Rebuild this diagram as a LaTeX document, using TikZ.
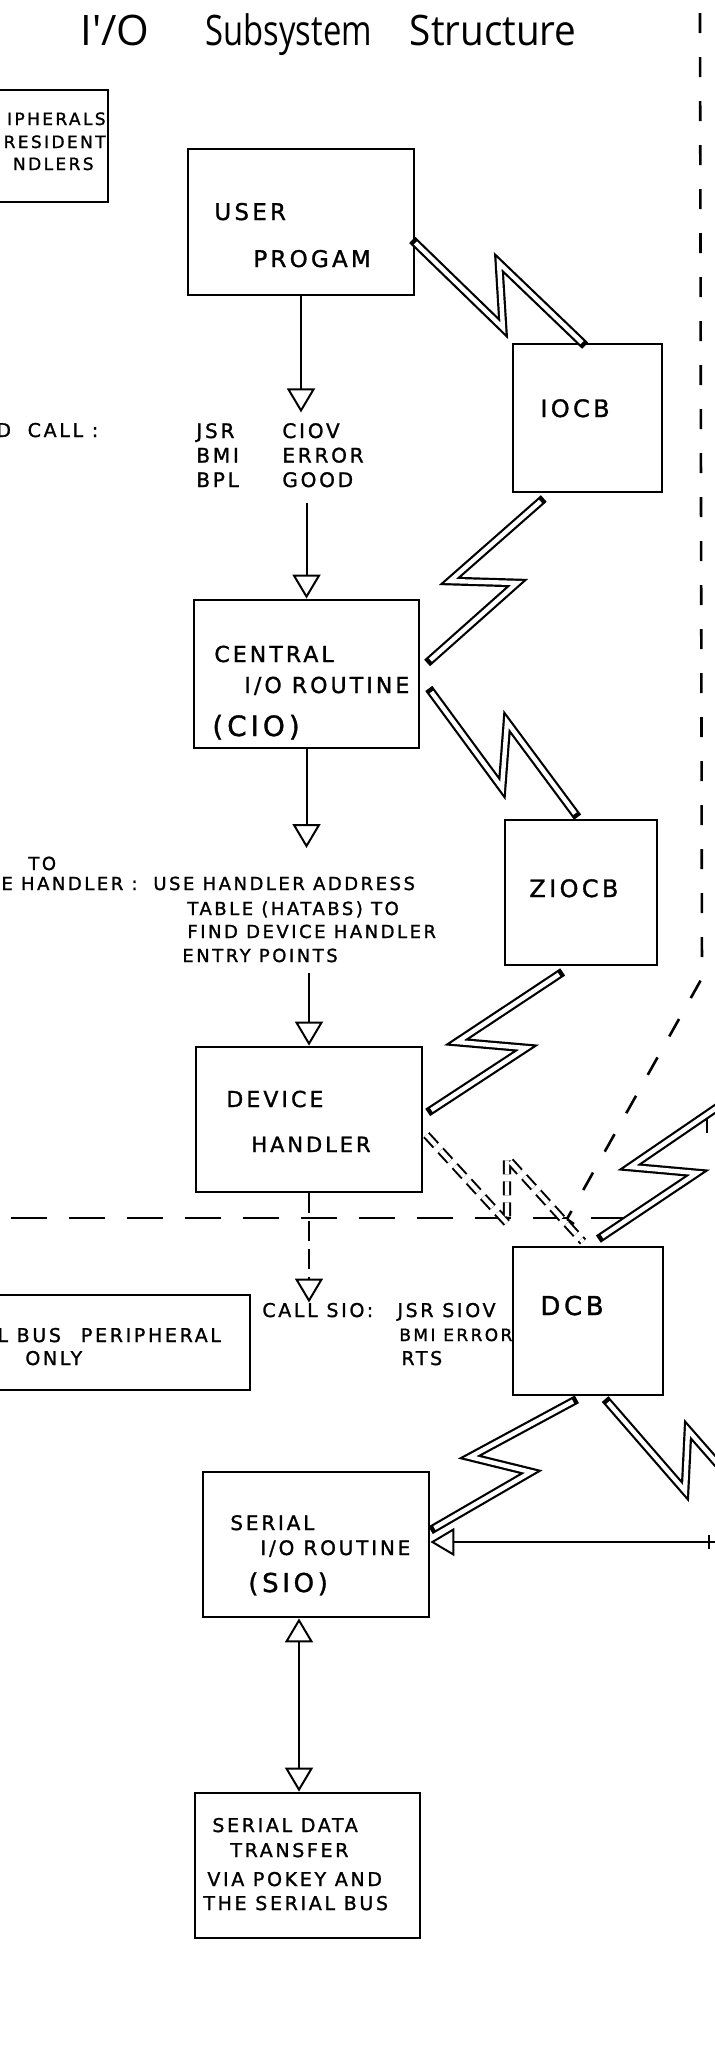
\documentclass[tikz,border=0pt]{standalone}
\usepackage{fontspec}
\usetikzlibrary{arrows.meta,calc}
\newfontfamily\hand{DejaVu Sans}[LetterSpace=14, FakeBold=1.3]
\newfontfamily\titlef{Open Sans}
\newcommand\handsize[2]{\hand\fontsize{#1}{#2}\selectfont}
\begin{document}
\begin{tikzpicture}[x=0.5pt, y=-0.5pt,
  box/.style={draw, line width=1.4pt, inner sep=0pt},
  lbl/.style={inner sep=0pt, anchor=base west},
  lble/.style={inner sep=0pt, anchor=base east},
  tri/.tip={Triangle[open, width=14pt, length=12pt]},
  arr/.style={line width=1pt, -tri},
  dblarr/.style={line width=1pt, tri-tri},
  darr/.style={line width=1pt, dash pattern=on 10pt off 4pt, -tri},
  dl/.style={line width=1.3pt, dash pattern=on 10pt off 12pt},
  dlh/.style={line width=1.3pt, dash pattern=on 18pt off 11pt},
  bolt/.style={draw=white, line width=2.2pt, line cap=butt, line join=miter, miter limit=20,
    preaction={draw=black, line width=4.4pt, line cap=rect, line join=miter, miter limit=20}},
  dbolt/.style={draw, line width=1pt, double=white, double distance=2.2pt, line join=miter,
    miter limit=20, dash pattern=on 7pt off 3.5pt},
]
\useasboundingbox (0,0) rectangle (715,2067);
\fill[white] (0,0) rectangle (715,2067);
\clip (0,0) rectangle (715,2067);

% title
\node[lbl, font=\titlef\fontsize{21}{24}\selectfont] (title) at (80,45)
  {I'/O\hspace{28pt}\scalebox{0.78}[1]{Subsystem}\hspace{19pt}\scalebox{0.92}[1]{Structure}};

% boxes
\node[box, minimum width=64pt, minimum height=56pt] (periph) at (44,146) {};
\node[box, minimum width=113pt, minimum height=73pt] (user) at (301,222) {};
\node[box, minimum width=74.5pt, minimum height=74pt] (iocb) at (587.5,418) {};
\node[box, minimum width=112.5pt, minimum height=74pt] (cio) at (306.5,674) {};
\node[box, minimum width=76pt, minimum height=72.5pt] (ziocb) at (581,892.5) {};
\node[box, minimum width=113pt, minimum height=72.5pt] (device) at (309,1119.5) {};
\node[box, minimum width=135pt, minimum height=47.5pt] (sbus) at (115,1342.5) {};
\node[box, minimum width=75pt, minimum height=74pt] (dcb) at (588,1321) {};
\node[box, minimum width=113pt, minimum height=72.5pt] (sio) at (316,1544.5) {};
\node[box, minimum width=112.5pt, minimum height=72.5pt] (sdt) at (307.5,1865.5) {};

% texts
\node[lble, font=\handsize{8.5}{10}] (p1) at (106,125) {IPHERALS};
\node[lble, font=\handsize{8.5}{10}] (p2) at (106,148) {RESIDENT};
\node[lble, font=\handsize{8.5}{10}] (p3) at (94,170) {NDLERS};

\node[lbl, font=\handsize{11.5}{13}] (u1) at (214,220) {USER};
\node[lbl, font=\handsize{11.5}{13}] (u2) at (253,267) {PROGAM};

\node[lbl, font=\handsize{12}{14}] (io) at (540,417) {IOCB};

\node[lbl, font=\handsize{9.5}{11}] (dcall) at (-4,437) {D\hspace{4pt} CALL :};
\node[lbl, inner ysep=4pt, font=\handsize{10}{12.25}] (calls) at (196,438)
  {\begin{tabular}[t]{@{}p{43pt}@{}l@{}}JSR&CIOV\\BMI&ERROR\\BPL&GOOD\end{tabular}};

\node[lbl, font=\handsize{11}{13}] (c1) at (214,662) {CENTRAL};
\node[lbl, font=\handsize{11}{13}] (c2) at (244,693) {I/O ROUTINE};
\node[lbl, font=\handsize{14}{16}] (c3) at (212,736) {(CIO)};

\node[lbl, font=\handsize{12}{14}] (zio) at (529,897) {ZIOCB};

\node[lbl, font=\handsize{9}{11}] (h0) at (28,870) {TO};
\node[lble, font=\handsize{9}{11}] (h1) at (138,890) {E HANDLER :};
\node[lbl, font=\handsize{9}{11}] (h2) at (153,890) {USE HANDLER ADDRESS};
\node[lbl, font=\handsize{9}{11}] (h3) at (187,915) {TABLE (HATABS) TO};
\node[lbl, font=\handsize{9}{11}] (h4) at (187,938) {FIND DEVICE HANDLER};
\node[lbl, font=\handsize{9}{11}] (h5) at (182,962) {ENTRY POINTS};

\node[lbl, font=\handsize{11}{13}] (d1) at (226,1107) {DEVICE};
\node[lbl, font=\handsize{10.5}{13}] (d2) at (251,1152) {HANDLER};

\node[lbl, font=\handsize{9.5}{11}] (csio) at (262,1317) {CALL SIO:};
\node[lbl, font=\handsize{9.5}{11}] (js) at (397,1317) {JSR SIOV};
\node[lbl, font=\handsize{8.5}{11}] (bm) at (399,1341) {BMI ERROR};
\node[lbl, font=\handsize{9.5}{11}] (rts) at (401,1365) {RTS};

\node[lbl, font=\handsize{9.5}{11}] (b1) at (-3,1342) {L BUS\hspace{10pt}PERIPHERAL};
\node[lbl, font=\handsize{9.5}{11}] (b2) at (25,1365) {ONLY};

\node[lbl, font=\handsize{13}{15}] (dc) at (540,1315) {DCB};

\node[lbl, font=\handsize{10}{12}] (s1) at (230,1530) {SERIAL};
\node[lbl, font=\handsize{10}{12}] (s2) at (260,1555) {I/O ROUTINE};
\node[lbl, font=\handsize{13}{15}] (s3) at (248,1592) {(SIO)};

\node[lbl, font=\handsize{9.5}{11}] (t1) at (212,1832) {SERIAL DATA};
\node[lbl, font=\handsize{9.5}{11}] (t2) at (230,1857) {TRANSFER};
\node[lbl, font=\handsize{9.5}{11}] (t3) at (207,1886) {VIA POKEY AND};
\node[lbl, font=\handsize{9.5}{11}] (t4) at (203,1910) {THE SERIAL BUS};

% free-end coordinates
\coordinate (hin) at (309,848);
\coordinate (hout) at (309,973);
\coordinate (rin) at (716,1542);
\coordinate (offA) at (750,1085);
\coordinate (offB) at (745,1495);

% straight arrows
\draw[arr] (user.south) -- (user.south |- calls.north);
\draw[arr] (cio.north |- calls.south) -- (cio.north);
\draw[arr] (cio.south) -- (cio.south |- hin);
\draw[arr] (device.north |- hout) -- (device.north);
\draw[darr] (device.south) -- (device.south |- csio.north);
\draw[dblarr] ($(sio.south)+(-17,0)$) -- ($(sdt.north)+(-8.5,0)$);
\draw[arr] (rin) -- (sio.east |- rin);
\draw[line width=0.8pt] (709,1535) -- (709,1549);

% dashed boundary lines
\draw[dl] (700,13) -- (702,978) -- (567,1219);
\draw[line width=1.2pt] (567,1219) -- (574,1224);
\draw[dlh] (11,1218) -- (643,1218);
\draw[line width=0.8pt] (707,1111) -- (707,1133);

% lightning connectors
\draw[bolt] ($(user.east)+(0,21)$) -- (503,328) -- (499,263) -- ($(iocb.north)+(-5.5,0)$);
\draw[bolt] ($(iocb.south)+(-47,8)$) -- (450,581) -- (517,583) -- ($(cio.east)+(10,-14)$);
\draw[bolt] ($(cio.east)+(11,18)$) -- (502,788) -- (507,722) -- ($(ziocb.north)+(-6,-5)$);
\draw[bolt] ($(ziocb.south)+(-22,8)$) -- (457,1042) -- (526,1048) -- ($(device.east)+(8,-9.5)$);
\draw[dbolt] ($(device.east)+(3,15.5)$) -- (507,1223) -- (507,1158) -- ($(dcb.north)+(-5,-4)$);
\draw[bolt] (offA) -- (630,1167) -- (697,1173) -- ($(dcb.north)+(14,-9)$);
\draw[bolt] ($(dcb.south)+(-15,5)$) -- (470,1457) -- (531,1472) -- ($(sio.east)+(4,-16.5)$);
\draw[bolt] ($(dcb.south)+(20,6)$) -- (685,1491) -- (688,1430) -- (offB);
\end{tikzpicture}
\end{document}
